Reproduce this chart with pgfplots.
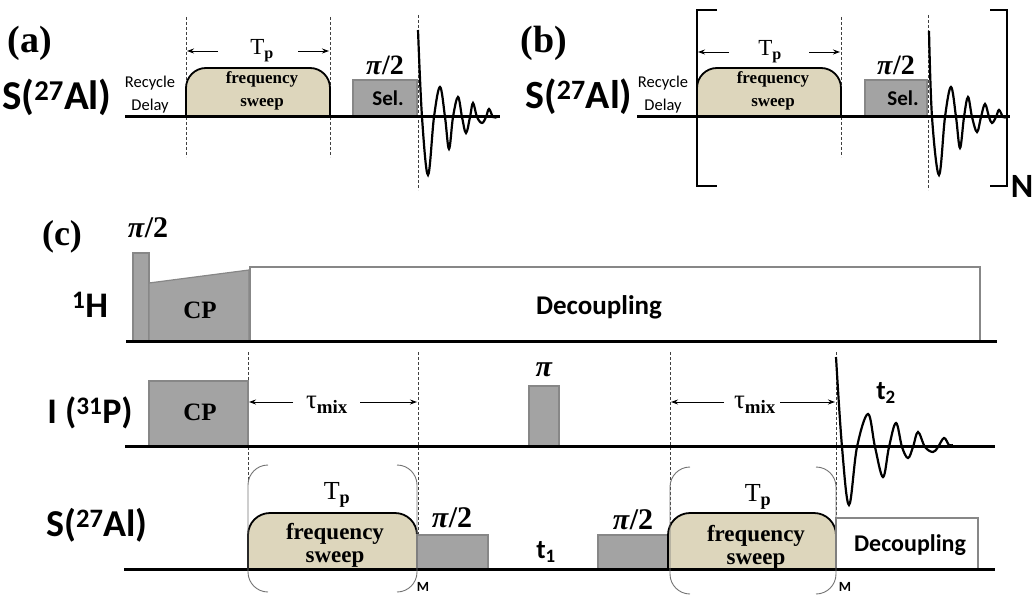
\documentclass[border=0pt]{standalone}
\usepackage{fontspec}
\setmainfont{Liberation Serif}
\setsansfont{Carlito}
\usepackage{pgfplots}
\pgfplotsset{compat=1.18}
\usetikzlibrary{arrows.meta}
\definecolor{beige}{RGB}{221,214,188}
\definecolor{pgray}{RGB}{163,163,163}
\definecolor{bgray}{RGB}{135,135,135}
\newcommand{\fs}[1]{\fontsize{#1}{#1}\selectfont}
\newcommand{\fsl}[2]{\fontsize{#1}{#2}\selectfont}
\newcommand{\pitwo}{\textbf{\textit{π}/2}}
\tikzset{
  base/.style={black,line width=3pt},
  dsh/.style={black!75,line width=0.8pt,dash pattern=on 3pt off 2pt},
  pulse/.style={fill=pgray,draw=bgray,line width=1.2pt},
  sweep/.style={fill=beige,draw=black,line width=1.8pt,rounded corners=20pt},
  fid/.style={black,line width=2.2pt,smooth,tension=0.6},
  arr/.style={-{Stealth[length=7pt,width=5pt]},line width=0.9pt,black},
  brk/.style={black,line width=2pt},
  parc/.style={black!55,line width=0.9pt,rounded corners=20pt},
  dec/.style={fill=white,draw=bgray,line width=1.5pt},
  lbl/.style={inner sep=1pt},
  two/.style={inner sep=0pt,align=center},
}
\begin{document}
\begin{tikzpicture}
\begin{axis}[width=1035pt,height=596pt,scale only axis,
  xmin=0,xmax=1035,ymin=0,ymax=596,y dir=reverse,
  axis lines=none,clip=false]
\addplot[draw=none] coordinates {(0,0) (1035,596)};

% ================= (a) =================
\addplot[dsh] coordinates {(186,17) (186,157)};
\addplot[dsh] coordinates {(330,17) (330,157)};
\addplot[dsh] coordinates {(418,15) (418,190)};
\addplot[sweep] coordinates {(186,117) (186,68) (330,68) (330,117)};
\addplot[pulse] coordinates {(353,117) (353,80) (417,80) (417,117)} -- cycle;
\addplot[base] coordinates {(125,117) (500,117)};
\addplot[fid] coordinates {(418,30) (422,117) (428,175) (434,117) (440,87) (445,117) (449,149) (453,117) (458,97) (462,117) (466,133) (470,117) (473,103) (477,117) (482,123) (486,117) (489,109) (493,117) (497,117)};
\addplot[arr] coordinates {(218,51) (187,51)};
\addplot[arr] coordinates {(298,51) (329,51)};

\node[lbl,font=\bfseries\fs{38}] at (30,43) {(a)};
\node[lbl,font=\sffamily\bfseries\fs{41}] at (57,97) {S(\textsuperscript{27}Al)};
\node[two,font=\sffamily\fsl{16.5}{23}] at (150,95) {Recycle\\Delay};
\node[lbl,font=\fs{23}] at (262,51) {T\textsubscript{\textbf{p}}};
\node[two,font=\bfseries\fsl{17}{23}] at (262,91) {frequency\\sweep};
\node[lbl,font=\fs{28}] at (385,65) {\pitwo};
\node[lbl,font=\sffamily\bfseries\fs{21}] at (388,98) {Sel.};

% ================= (b) =================
\addplot[dsh] coordinates {(841,17) (841,157)};
\addplot[dsh] coordinates {(928,15) (928,190)};
\addplot[sweep] coordinates {(697,117) (697,68) (841,68) (841,117)};
\addplot[pulse] coordinates {(865,117) (865,80) (927,80) (927,117)} -- cycle;
\addplot[base] coordinates {(637,117) (1010,117)};
\addplot[fid] coordinates {(929,31) (932,117) (939,175) (945,117) (951,87) (956,117) (960,148) (964,117) (968,97) (972,117) (977,132) (981,117) (985,104) (989,117) (992,123) (996,117) (999,110) (1003,117) (1006,117)};
\addplot[brk] coordinates {(717,10) (697,10) (697,186) (717,186)};
\addplot[brk] coordinates {(990,10) (1007,10) (1007,186) (990,186)};
\addplot[arr] coordinates {(729,52) (698,52)};
\addplot[arr] coordinates {(809,52) (840,52)};

\node[lbl,font=\bfseries\fs{38}] at (544,43) {(b)};
\node[lbl,font=\sffamily\bfseries\fs{40}] at (579,97) {S(\textsuperscript{27}Al)};
\node[two,font=\sffamily\fsl{16.5}{23}] at (663,95) {Recycle\\Delay};
\node[lbl,font=\fs{23}] at (770,52) {T\textsubscript{\textbf{p}}};
\node[two,font=\bfseries\fsl{17}{23}] at (773,91) {frequency\\sweep};
\node[lbl,font=\fs{28}] at (896,65) {\pitwo};
\node[lbl,font=\sffamily\bfseries\fs{21}] at (903,98) {Sel.};
\node[lbl,font=\sffamily\bfseries\fs{34}] at (1022,186) {N};

% ================= (c) =================
\addplot[dsh] coordinates {(248,352) (248,480)};
\addplot[dsh] coordinates {(418,352) (418,535)};
\addplot[dsh] coordinates {(670,352) (670,535)};
\addplot[dsh] coordinates {(836,352) (836,515)};

% 1H channel
\addplot[dec] coordinates {(250,341) (250,267) (980,267) (980,341)} -- cycle;
\addplot[pulse] coordinates {(133,341) (133,253) (149,253) (149,341)} -- cycle;
\addplot[pulse] coordinates {(149,341) (149,283) (249,270) (249,341)} -- cycle;
\addplot[base] coordinates {(126,341) (997,341)};

% I channel
\addplot[pulse] coordinates {(149,446) (149,381) (248,381) (248,446)} -- cycle;
\addplot[pulse] coordinates {(529,446) (529,386) (559,386) (559,446)} -- cycle;
\addplot[base] coordinates {(125,446) (995,446)};
\addplot[fid] coordinates {(836,357) (842,447) (849,505) (857,447) (868,414) (875,447) (883,477) (889,447) (896,423) (902,447) (908,458) (913,447) (918,432) (925,447) (933,452) (938,447) (944,438) (949,445) (953,445)};
\addplot[arr] coordinates {(293,402) (249,402)};
\addplot[arr] coordinates {(360,402) (417,402)};
\addplot[arr] coordinates {(724,402) (671,402)};
\addplot[arr] coordinates {(780,402) (835,402)};

% S channel
\addplot[sweep,rounded corners=22pt] coordinates {(248,569) (248,513) (417,513) (417,569)};
\addplot[pulse] coordinates {(417,569) (417,535) (488,535) (488,569)} -- cycle;
\addplot[pulse] coordinates {(598,569) (598,535) (668,535) (668,569)} -- cycle;
\addplot[sweep,rounded corners=22pt] coordinates {(668,569) (668,513) (836,513) (836,569)};
\addplot[dec] coordinates {(836,569) (836,518) (978,518) (978,569)} -- cycle;
\addplot[base] coordinates {(124,569) (995,569)};
\addplot[parc] coordinates {(268,465) (248,465) (248,592) (268,592)};
\addplot[parc] coordinates {(397,465) (417,465) (417,592) (397,592)};
\addplot[parc] coordinates {(690,467) (670,467) (670,594) (690,594)};
\addplot[parc] coordinates {(816,467) (836,467) (836,594) (816,594)};

\node[lbl,font=\bfseries\fs{36}] at (62,237) {(c)};
\node[lbl,font=\fs{30}] at (148,228) {\pitwo};
\node[lbl,font=\sffamily\bfseries\fs{36}] at (90,305) {\textsuperscript{1}H};
\node[lbl,font=\bfseries\fs{25}] at (200,310) {CP};
\node[lbl,font=\sffamily\bfseries\fs{27}] at (599,307) {Decoupling};

\node[lbl,font=\sffamily\bfseries\fs{36}] at (90,413) {I (\textsuperscript{31}P)};
\node[lbl,font=\bfseries\fs{25}] at (200,412) {CP};
\node[lbl,font=\fs{27}] at (327,405) {τ\textsubscript{\textbf{mix}}};
\node[lbl,font=\fs{27}] at (755,405) {τ\textsubscript{\textbf{mix}}};
\node[lbl,font=\fs{30}] at (544,370) {\textbf{\textit{π}}};
\node[lbl,font=\sffamily\bfseries\fs{27}] at (886,393) {t\textsubscript{2}};

\node[lbl,font=\sffamily\bfseries\fs{38}] at (97,525) {S(\textsuperscript{27}Al)};
\node[lbl,font=\fs{26}] at (337,495) {T\textsubscript{\textbf{p}}};
\node[lbl,font=\fs{26}] at (758,497) {T\textsubscript{\textbf{p}}};
\node[two,font=\bfseries\fsl{23}{23}] at (335,545) {frequency\\sweep};
\node[two,font=\bfseries\fsl{23}{23}] at (756,547) {frequency\\sweep};
\node[lbl,font=\fs{30}] at (452,518) {\pitwo};
\node[lbl,font=\fs{30}] at (633,520) {\pitwo};
\node[lbl,font=\sffamily\bfseries\fs{27}] at (546,552) {t\textsubscript{1}};
\node[lbl,font=\sffamily\bfseries\fs{14}] at (423,587) {M};
\node[lbl,font=\sffamily\bfseries\fs{14}] at (845,587) {M};
\node[lbl,font=\sffamily\bfseries\fs{24}] at (910,545) {Decoupling};
\end{axis}
\end{tikzpicture}
\end{document}
